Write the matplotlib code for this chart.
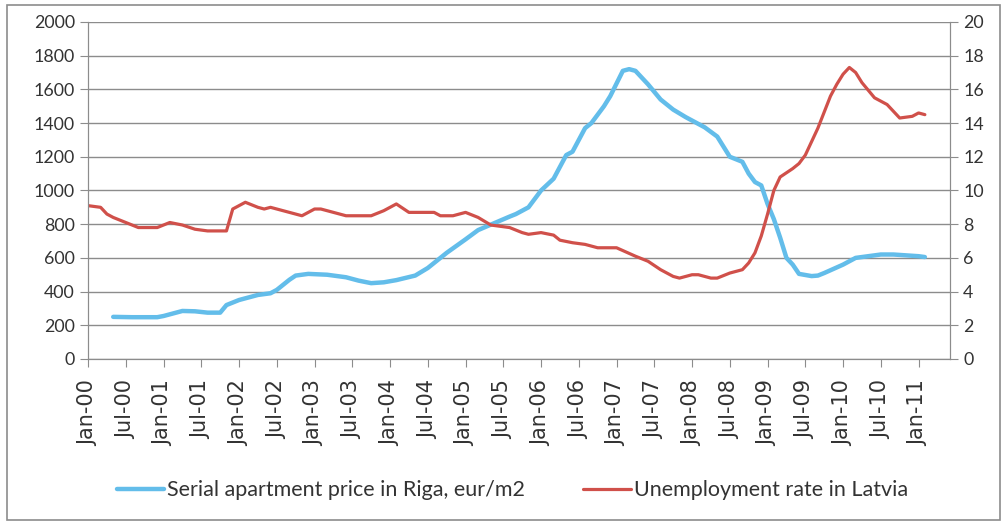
import matplotlib.pyplot as plt
from matplotlib.patches import Rectangle
from matplotlib.font_manager import FontProperties

# months since Jan-2000 and values
price_months = [4, 7, 11, 12, 15, 17, 19, 21, 22, 24, 27, 29, 30, 32, 33, 35, 38, 40, 41, 43,
                45, 47, 49, 52, 54, 57, 60, 62, 65, 67, 68, 70, 72, 74, 76, 77, 79, 80, 82, 83,
                85, 86, 87, 89, 91, 93, 95, 98, 100, 101, 102, 104, 105, 106, 107, 108, 109, 110,
                111, 112, 113, 115, 116, 117, 120, 122, 124, 126, 128, 130, 132, 133]
price_values = [250, 248, 248, 255, 285, 283, 275, 275, 320, 350, 380, 390, 410, 470, 495, 505, 500, 490, 485, 465,
                450, 455, 468, 495, 540, 630, 710, 765, 813, 845, 860, 900, 1000, 1070, 1210, 1230, 1370, 1400, 1500, 1560,
                1710, 1720, 1710, 1630, 1540, 1480, 1435, 1375, 1320, 1260, 1200, 1170, 1100, 1050, 1030, 920, 830, 720,
                600, 560, 505, 492, 495, 510, 560, 600, 610, 620, 620, 615, 610, 605]

unemp_months = [0, 2, 3, 4, 6, 8, 11, 13, 15, 17, 19, 22, 23, 25, 27, 28, 29, 32, 33, 34, 36, 37, 39, 41,
                45, 47, 49, 51, 55, 56, 58, 60, 62, 64, 66, 67, 69, 70, 72, 74, 75, 77, 79, 81, 84, 87,
                89, 91, 93, 94, 96, 97, 99, 100, 102, 104, 105, 106, 107, 108, 109, 110, 112, 113, 114,
                116, 118, 119, 120, 121, 122, 123, 125, 127, 129, 131, 132, 133]
unemp_values = [9.1, 9.0, 8.6, 8.4, 8.1, 7.8, 7.8, 8.1, 7.95, 7.7, 7.6, 7.6, 8.9, 9.3, 9.0, 8.9, 9.0, 8.7, 8.6, 8.5, 8.9, 8.9, 8.7, 8.5,
                8.5, 8.8, 9.2, 8.7, 8.7, 8.5, 8.5, 8.7, 8.4, 7.95, 7.85, 7.8, 7.5, 7.4, 7.5, 7.35, 7.05, 6.9, 6.8, 6.6, 6.6, 6.1,
                5.8, 5.3, 4.9, 4.8, 5.0, 5.0, 4.8, 4.8, 5.1, 5.3, 5.7, 6.3, 7.3, 8.6, 10.0, 10.8, 11.3, 11.6, 12.1,
                13.7, 15.6, 16.3, 16.9, 17.3, 17.0, 16.4, 15.5, 15.1, 14.3, 14.4, 14.6, 14.5]

tick_months = list(range(0, 133, 6))
tick_labels = [('Jan-' if m % 12 == 0 else 'Jul-') + '%02d' % (m // 12) for m in tick_months]

price_label = 'Serial apartment price in Riga, eur/m2'
unemp_label = 'Unemployment rate in Latvia'

plt.rcParams['font.family'] = ['Lato', 'DejaVu Sans']
grid_col = '#8c8c8c'
text_col = '#333333'

fig = plt.figure(figsize=(10.05, 5.23), dpi=100)
ax = fig.add_axes([0.0876, 0.3136, 0.8577, 0.6444])
ax2 = ax.twinx()

l1, = ax.plot(price_months, price_values, color='#63bdea', lw=3.2, solid_capstyle='round')
l2, = ax2.plot(unemp_months, unemp_values, color='#d0504a', lw=2.3, solid_capstyle='round')

ax.set_xlim(0, 137)
ax.set_ylim(0, 2000)
ax2.set_ylim(0, 20)
ax.set_yticks(range(0, 2001, 200))
ax2.set_yticks(range(0, 21, 2))
ax.yaxis.grid(True, color=grid_col, lw=1)
ax.set_axisbelow(True)

for a in (ax, ax2):
    for s in a.spines.values():
        s.set_color(grid_col)
    a.spines['top'].set_visible(False)
    a.tick_params(colors=grid_col, labelcolor=text_col, length=6, direction='out')
    a.tick_params(axis='y', labelsize=12.8)
ax.tick_params(axis='x', pad=9)

ax.set_xticks(tick_months)
ax.set_xticklabels(tick_labels, rotation=90)
xfont = FontProperties(family='DejaVu Sans', size=15)
for lab in ax.get_xticklabels():
    lab.set_fontproperties(xfont)

fig.patches.append(Rectangle((0.007, 0.006), 0.988, 0.984, transform=fig.transFigure,
                             fill=False, edgecolor='#8c8c8c', lw=1.2))

fig.legend([l1, l2], [price_label, unemp_label], loc='center', bbox_to_anchor=(0.51, 0.063),
           ncol=2, frameon=False, handlelength=2.2, handletextpad=0.15,
           columnspacing=2.7, labelcolor=text_col,
           prop={'family': ['Lato', 'DejaVu Sans'], 'size': 15.5})

fig.savefig('out.png', dpi=100)
